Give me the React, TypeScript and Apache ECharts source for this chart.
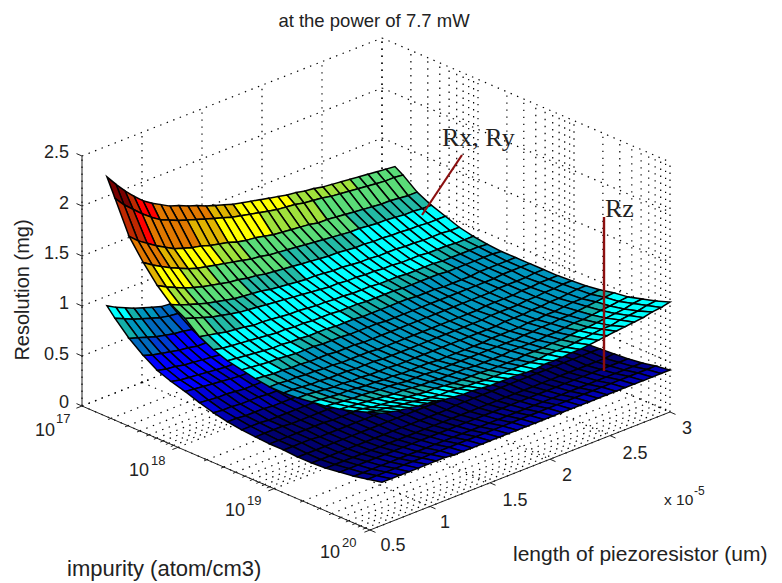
import React, { useEffect, useRef } from "react";
import * as echarts from "echarts";

// length of piezoresistor, in units of 1e-5 (surface columns)
const lengths = [0.6,0.675,0.75,0.825,0.9,0.975,1.05,1.125,1.2,1.275,1.35,1.425,1.5,1.575,1.65,1.725,1.8,1.875,1.95,2.025,2.1,2.175,2.25,2.325,2.4,2.475,2.55,2.625,2.7,2.775,2.85,2.925,3.0];
// log10 of impurity (surface rows)
const impurityExp = [17.135,17.219,17.366,17.513,17.66,17.804,17.951,18.098,18.245,18.392,18.539,18.683,18.83,18.977,19.124,19.268,19.415,19.562,19.709,19.853,20];

const rxRy = [
[2.30,2.19,2.09,2.00,1.92,1.86,1.81,1.76,1.73,1.69,1.66,1.62,1.59,1.56,1.53,1.51,1.49,1.47,1.45,1.43,1.41,1.40,1.38,1.37,1.35,1.34,1.33,1.32,1.31,1.30,1.29,1.28,1.27],
[2.12,2.02,1.94,1.86,1.79,1.73,1.69,1.65,1.62,1.59,1.56,1.53,1.50,1.47,1.45,1.43,1.41,1.39,1.37,1.36,1.35,1.33,1.32,1.31,1.29,1.28,1.27,1.26,1.25,1.24,1.23,1.23,1.22],
[1.80,1.72,1.66,1.60,1.55,1.50,1.47,1.44,1.42,1.39,1.37,1.35,1.32,1.30,1.29,1.27,1.25,1.24,1.23,1.22,1.21,1.19,1.19,1.18,1.17,1.16,1.15,1.14,1.13,1.13,1.12,1.11,1.11],
[1.60,1.54,1.49,1.44,1.40,1.36,1.33,1.31,1.29,1.27,1.25,1.23,1.21,1.20,1.18,1.17,1.16,1.15,1.14,1.13,1.12,1.11,1.10,1.09,1.09,1.08,1.07,1.07,1.06,1.05,1.05,1.04,1.04],
[1.43,1.38,1.34,1.30,1.27,1.24,1.22,1.20,1.18,1.17,1.15,1.14,1.12,1.11,1.10,1.09,1.08,1.07,1.06,1.05,1.05,1.04,1.03,1.03,1.02,1.02,1.01,1.01,1.00,1.00,.99,.99,.99],
[1.30,1.26,1.23,1.20,1.17,1.15,1.13,1.11,1.10,1.09,1.08,1.06,1.05,1.04,1.03,1.02,1.02,1.01,1.00,1.00,.99,.98,.98,.97,.97,.97,.96,.96,.95,.95,.95,.94,.94],
[1.22,1.19,1.16,1.13,1.11,1.09,1.07,1.06,1.05,1.04,1.03,1.02,1.01,1.00,.99,.98,.97,.97,.96,.96,.95,.95,.94,.94,.93,.93,.93,.92,.92,.92,.91,.91,.91],
[1.10,1.08,1.06,1.04,1.03,1.02,1.00,1.00,.99,.98,.97,.97,.96,.95,.95,.94,.94,.93,.93,.93,.92,.92,.92,.91,.91,.91,.91,.90,.90,.90,.90,.90,.89],
[1.03,1.01,1.00,.99,.98,.97,.96,.95,.95,.94,.94,.93,.93,.93,.92,.92,.92,.91,.91,.91,.91,.90,.90,.90,.90,.90,.89,.89,.89,.89,.89,.89,.88],
[.98,.97,.96,.95,.94,.93,.93,.92,.92,.91,.91,.91,.90,.90,.90,.89,.89,.89,.89,.89,.89,.88,.88,.88,.87,.87,.87,.87,.88,.88,.88,.88,.88],
[.95,.94,.93,.92,.92,.91,.90,.90,.90,.89,.89,.89,.88,.88,.88,.88,.87,.87,.87,.87,.87,.87,.87,.87,.87,.87,.87,.87,.87,.88,.88,.88,.88],
[.92,.91,.90,.90,.89,.89,.88,.88,.88,.87,.87,.87,.86,.86,.86,.86,.86,.86,.86,.86,.86,.86,.86,.86,.86,.86,.86,.87,.87,.87,.87,.88,.88],
[.90,.90,.89,.89,.88,.88,.87,.87,.86,.86,.86,.86,.85,.85,.85,.85,.85,.85,.85,.85,.85,.85,.85,.85,.86,.86,.86,.86,.87,.87,.88,.88,.88],
[.90,.90,.89,.88,.88,.87,.87,.87,.86,.86,.86,.85,.85,.85,.85,.85,.85,.85,.85,.85,.85,.85,.85,.86,.86,.86,.86,.87,.87,.88,.88,.89,.89],
[.91,.91,.90,.89,.88,.88,.87,.87,.86,.86,.86,.85,.85,.85,.85,.85,.85,.85,.85,.85,.85,.85,.85,.86,.86,.86,.87,.87,.88,.88,.89,.90,.90],
[.93,.92,.91,.90,.90,.89,.88,.88,.87,.87,.86,.86,.86,.86,.85,.85,.85,.85,.85,.85,.86,.86,.86,.86,.87,.87,.88,.88,.89,.90,.90,.91,.92],
[.95,.94,.93,.92,.92,.91,.90,.90,.89,.88,.88,.88,.87,.87,.87,.87,.87,.87,.87,.87,.87,.87,.88,.88,.89,.89,.90,.90,.91,.92,.93,.94,.95],
[.98,.97,.96,.95,.94,.93,.92,.92,.91,.90,.90,.89,.89,.89,.89,.88,.88,.88,.88,.89,.89,.89,.89,.90,.90,.91,.92,.92,.93,.94,.95,.96,.97],
[1.02,1.01,.99,.98,.97,.96,.95,.94,.93,.93,.92,.91,.91,.91,.91,.90,.90,.90,.90,.91,.91,.91,.92,.92,.93,.94,.94,.95,.96,.97,.98,1.00,1.01],
[1.07,1.05,1.04,1.02,1.01,1.00,.98,.97,.96,.96,.95,.94,.94,.93,.93,.93,.93,.93,.93,.93,.94,.94,.94,.95,.96,.97,.98,.98,1.00,1.01,1.02,1.04,1.05],
[1.12,1.10,1.08,1.07,1.05,1.04,1.03,1.01,1.00,.99,.99,.98,.97,.97,.97,.97,.96,.96,.97,.97,.97,.98,.98,.99,1.00,1.01,1.02,1.03,1.04,1.05,1.07,1.08,1.10],
];

const rz = [
[1.01,.96,.92,.88,.85,.82,.79,.78,.76,.74,.73,.71,.70,.69,.67,.66,.65,.65,.64,.63,.62,.61,.61,.60,.60,.59,.58,.58,.58,.57,.57,.56,.56],
[.92,.88,.84,.81,.78,.75,.73,.72,.70,.69,.68,.66,.65,.64,.63,.62,.61,.60,.60,.59,.58,.58,.57,.57,.56,.56,.55,.55,.54,.54,.54,.53,.53],
[.78,.75,.72,.69,.67,.65,.64,.62,.61,.60,.59,.58,.57,.56,.56,.55,.54,.54,.53,.53,.52,.52,.51,.51,.50,.50,.50,.49,.49,.49,.48,.48,.48],
[.67,.64,.62,.60,.58,.57,.55,.55,.54,.53,.52,.51,.50,.50,.49,.49,.48,.48,.47,.47,.46,.46,.46,.45,.45,.45,.44,.44,.44,.44,.43,.43,.43],
[.58,.56,.55,.53,.52,.51,.50,.49,.49,.48,.47,.47,.46,.46,.45,.45,.45,.44,.44,.44,.43,.43,.43,.43,.42,.42,.42,.42,.42,.41,.41,.41,.41],
[.53,.51,.50,.49,.48,.47,.46,.46,.45,.45,.44,.44,.43,.43,.43,.42,.42,.42,.41,.41,.41,.41,.41,.40,.40,.40,.40,.40,.39,.39,.39,.39,.39],
[.49,.48,.47,.46,.45,.44,.43,.43,.42,.42,.42,.41,.41,.40,.40,.40,.40,.39,.39,.39,.39,.38,.38,.38,.38,.38,.38,.38,.37,.37,.37,.37,.37],
[.44,.43,.42,.42,.41,.40,.40,.40,.39,.39,.39,.38,.38,.38,.38,.37,.37,.37,.37,.37,.37,.37,.36,.36,.36,.36,.36,.36,.36,.36,.36,.36,.35],
[.40,.39,.39,.38,.38,.38,.37,.37,.37,.37,.37,.36,.36,.36,.36,.36,.36,.36,.35,.35,.35,.35,.35,.35,.35,.35,.35,.35,.35,.35,.35,.35,.34],
[.37,.37,.36,.36,.36,.35,.35,.35,.35,.35,.35,.35,.35,.34,.34,.34,.34,.34,.34,.34,.34,.34,.34,.34,.34,.34,.34,.34,.34,.34,.34,.34,.33],
[.35,.35,.35,.34,.34,.34,.34,.34,.34,.34,.34,.34,.34,.34,.33,.33,.33,.33,.33,.33,.33,.33,.33,.33,.33,.33,.33,.33,.33,.33,.33,.33,.33],
[.34,.34,.34,.34,.33,.33,.33,.33,.33,.33,.33,.33,.33,.33,.33,.33,.33,.33,.33,.33,.33,.33,.33,.33,.33,.33,.33,.33,.33,.33,.33,.33,.33],
[.33,.33,.33,.33,.33,.33,.33,.32,.32,.32,.32,.32,.32,.32,.32,.32,.32,.32,.32,.32,.32,.32,.32,.32,.32,.32,.32,.32,.32,.32,.32,.32,.32],
[.33,.33,.33,.33,.32,.32,.32,.32,.32,.32,.32,.32,.32,.32,.32,.32,.32,.32,.32,.32,.32,.32,.32,.32,.32,.32,.32,.32,.32,.32,.32,.32,.32],
[.32,.32,.32,.32,.32,.32,.32,.32,.32,.32,.32,.32,.32,.32,.32,.32,.32,.32,.32,.32,.32,.32,.32,.32,.32,.32,.32,.32,.32,.32,.32,.32,.32],
[.32,.32,.32,.32,.32,.32,.32,.32,.32,.32,.32,.32,.32,.32,.32,.32,.33,.33,.33,.33,.33,.33,.33,.33,.33,.33,.33,.33,.33,.33,.33,.33,.33],
[.33,.33,.33,.33,.33,.33,.33,.33,.33,.33,.33,.33,.33,.33,.33,.33,.33,.33,.33,.33,.33,.33,.33,.33,.33,.33,.33,.33,.33,.33,.33,.33,.34],
[.35,.35,.35,.35,.35,.35,.35,.35,.35,.35,.35,.35,.35,.35,.35,.35,.35,.35,.35,.35,.35,.35,.35,.35,.35,.35,.35,.35,.35,.35,.35,.35,.35],
[.37,.37,.37,.37,.37,.37,.37,.37,.37,.37,.37,.37,.37,.37,.37,.37,.37,.37,.37,.37,.37,.37,.37,.37,.37,.37,.37,.37,.37,.37,.37,.37,.37],
[.40,.40,.40,.40,.40,.40,.40,.40,.40,.40,.40,.40,.40,.40,.40,.40,.40,.40,.40,.40,.40,.40,.40,.40,.40,.40,.40,.40,.40,.40,.40,.40,.40],
[.43,.43,.43,.43,.43,.43,.43,.43,.42,.42,.42,.42,.42,.42,.42,.42,.42,.42,.42,.42,.42,.42,.42,.42,.42,.42,.42,.42,.42,.42,.42,.42,.42],
];

const zTicks = [0, 0.5, 1, 1.5, 2, 2.5];
const zTickLabels = ["0", "0.5", "1", "1.5", "2", "2.5"];
const lengthTicks = [0.5, 1, 1.5, 2, 2.5, 3];
const lengthTickLabels = ["0.5", "1", "1.5", "2", "2.5", "3"];
const impurityTicks = [17, 18, 19, 20];
const minorMantissas = [2, 3, 4, 5, 6, 7, 8, 9];

// palette seen in the picture: upper bound of resolution -> colour
const paletteTop = [.345,.38,.44,.50,.68,.74,.84,.91,.93,1.10,1.175,1.33,1.42,1.55,1.65,1.88,2.02,2.18,9];
const paletteColor = ["#00006e","#00008c","#0000b4","#0000dc","#0000ff","#003cd2","#0069be","#0096be","#14afaa","#00ffff","#23b9a5","#5adc78","#a0e13c","#ffff00","#e0b400","#e17800","#ff0000","#be2800","#780000"];

const colorOf = (z: number) => paletteColor[paletteTop.findIndex((t) => z < t)];

// oblique view of the 3D box: data -> page pixel
const project = (len: number, exp: number, z: number): [number, number] => {
  const a = (len - 0.5) / 2.5;
  const b = (exp - 17) / 3;
  return [82 + 300 * a + 288 * b, 406 - 118 * a + 124 * b - 100 * z];
};

type Seg = [number, number, number, number, number, number];
const minorExps: number[] = [];
impurityTicks.slice(0, 3).forEach((e) => minorMantissas.forEach((m) => minorExps.push(e + Math.log10(m))));
const allExps = [...impurityTicks, ...minorExps];

const gridSegs: Seg[] = [];
zTicks.forEach((z) => {
  gridSegs.push([0.5, 17, z, 3, 17, z]);
  gridSegs.push([3, 17, z, 3, 20, z]);
});
lengthTicks.forEach((l) => {
  gridSegs.push([l, 17, 0, l, 17, 2.5]);
  gridSegs.push([l, 17, 0, l, 20, 0]);
});
allExps.forEach((e) => {
  gridSegs.push([3, e, 0, 3, e, 2.5]);
  gridSegs.push([0.5, e, 0, 3, e, 0]);
});

const axisSegs: Seg[] = [
  [0.5, 17, 0, 0.5, 17, 2.5],
  [0.5, 17, 0, 0.5, 20, 0],
  [0.5, 20, 0, 3, 20, 0],
];

const cellItems = (rows: number[][]) => {
  const items: number[][] = [];
  for (let i = 0; i < rows.length - 1; i++)
    for (let j = rows[0].length - 2; j >= 0; j--) items.push([j, i]);
  return items;
};

const surfaceSeries = (name: string, rows: number[][]) => ({
  type: "custom",
  name,
  silent: true,
  coordinateSystem: "cartesian2d",
  clip: false,
  progressive: 0,
  z: 3,
  data: cellItems(rows),
  renderItem: (_: any, api: any) => {
    const j = api.value(0);
    const i = api.value(1);
    const pt = (r: number, c: number) => api.coord(project(lengths[c], impurityExp[r], rows[r][c]));
    return {
      type: "polygon",
      shape: { points: [pt(i, j), pt(i, j + 1), pt(i + 1, j + 1), pt(i + 1, j)] },
      style: { fill: colorOf(rows[i][j]), stroke: "#000", lineWidth: 1.5 },
    };
  },
});

const segSeries = (name: string, segs: Seg[], style: any, z: number) => ({
  type: "custom",
  name,
  silent: true,
  coordinateSystem: "cartesian2d",
  clip: false,
  progressive: 0,
  z,
  data: segs,
  renderItem: (_: any, api: any) => {
    const a = api.coord(project(api.value(0), api.value(1), api.value(2)));
    const b = api.coord(project(api.value(3), api.value(4), api.value(5)));
    return { type: "line", shape: { x1: a[0], y1: a[1], x2: b[0], y2: b[1] }, style };
  },
});

// ticks: position in data + pixel direction
const tickSeries = () => {
  const items: number[][] = [];
  const dirZ = [-5.5, -2.4];
  const dirL = [5.5, 2.4];
  const dirI = [-5.6, 2.2];
  zTicks.forEach((z) => items.push([0.5, 17, z, dirZ[0], dirZ[1]]));
  lengthTicks.forEach((l) => items.push([l, 20, 0, dirL[0], dirL[1]]));
  impurityTicks.forEach((e) => items.push([0.5, e, 0, dirI[0], dirI[1]]));
  minorExps.forEach((e) => items.push([0.5, e, 0, dirI[0] / 2, dirI[1] / 2]));
  return {
    type: "custom",
    name: "ticks",
    silent: true,
    coordinateSystem: "cartesian2d",
    clip: false,
    progressive: 0,
    z: 2,
    data: items,
    renderItem: (_: any, api: any) => {
      const a = api.coord(project(api.value(0), api.value(1), api.value(2)));
      return {
        type: "line",
        shape: { x1: a[0], y1: a[1], x2: a[0] + api.value(3), y2: a[1] + api.value(4) },
        style: { stroke: "#222", lineWidth: 1 },
      };
    },
  };
};

const SANS = "Liberation Sans, Arial, sans-serif";
const SERIF = "Liberation Serif, Times New Roman, serif";
const INK = "#222";

const label = (text: string, x: number, y: number, size: number, align = "center", family = SANS) => ({
  type: "text",
  z: 100,
  x,
  y,
  silent: true,
  style: { text, fill: INK, font: `${size}px ${family}`, textAlign: align, textVerticalAlign: "middle" },
});

const zLabelY = [402, 354, 303, 253, 203, 152];
const lengthLabelPos = [[393, 545], [445, 522], [515, 500], [567, 475], [635, 453], [687, 428]];
const impurityLabelPos = [[55, 430, 56, 418], [149, 470, 151, 460], [245, 510, 247, 500], [340, 552, 342, 542]];

export default function App() {
  const ref = useRef<HTMLDivElement>(null);
  useEffect(() => {
    const chart = echarts.init(ref.current!, undefined, { renderer: "svg" });
    const elements: any[] = [
      label("at the power of 7.7 mW", 374, 20, 18.5),
      label("impurity (atom/cm3)", 67, 568, 22, "left"),
      label("length of piezoresistor (um)", 513, 553, 21, "left"),
      { ...label("Resolution (mg)", 22, 290, 20), rotation: Math.PI / 2 },
      label("x 10", 664, 499, 15.5, "left"),
      label("-5", 694, 491, 12, "left"),
      label("Rx, Ry", 442, 137, 26, "left", SERIF),
      label("Rz", 605, 208, 26, "left", SERIF),
      { type: "line", z: 100, silent: true, shape: { x1: 462, y1: 155, x2: 422, y2: 215 }, style: { stroke: "#8b0f0f", lineWidth: 2.2 } },
      { type: "line", z: 100, silent: true, shape: { x1: 604, y1: 217, x2: 604, y2: 371 }, style: { stroke: "#8b0f0f", lineWidth: 2.4 } },
    ];
    zTickLabels.forEach((t, k) => elements.push(label(t, 69, zLabelY[k], 18, "right")));
    lengthTickLabels.forEach((t, k) => elements.push(label(t, lengthLabelPos[k][0], lengthLabelPos[k][1], 18)));
    impurityTicks.forEach((e, k) => {
      const p = impurityLabelPos[k];
      elements.push(label("10", p[0], p[1], 18, "right"));
      elements.push(label(String(e), p[2], p[3], 13, "left"));
    });
    chart.setOption({
      animation: false,
      backgroundColor: "#fff",
      grid: { left: 0, right: 0, top: 0, bottom: 0 },
      xAxis: { type: "value", min: 0, max: 782, show: false },
      yAxis: { type: "value", min: 0, max: 583, inverse: true, show: false },
      graphic: { elements },
      series: [
        segSeries("grid", gridSegs, { stroke: "#000", lineWidth: 1.2, lineDash: [1.4, 5.6] }, 1),
        segSeries("axes", axisSegs, { stroke: "#222", lineWidth: 1 }, 2),
        tickSeries(),
        surfaceSeries("Rz", rz),
        surfaceSeries("Rx, Ry", rxRy),
      ],
    });
    return () => chart.dispose();
  }, []);
  return <div ref={ref} style={{ position: "fixed", left: 0, top: 0, width: 782, height: 583 }} />;
}
